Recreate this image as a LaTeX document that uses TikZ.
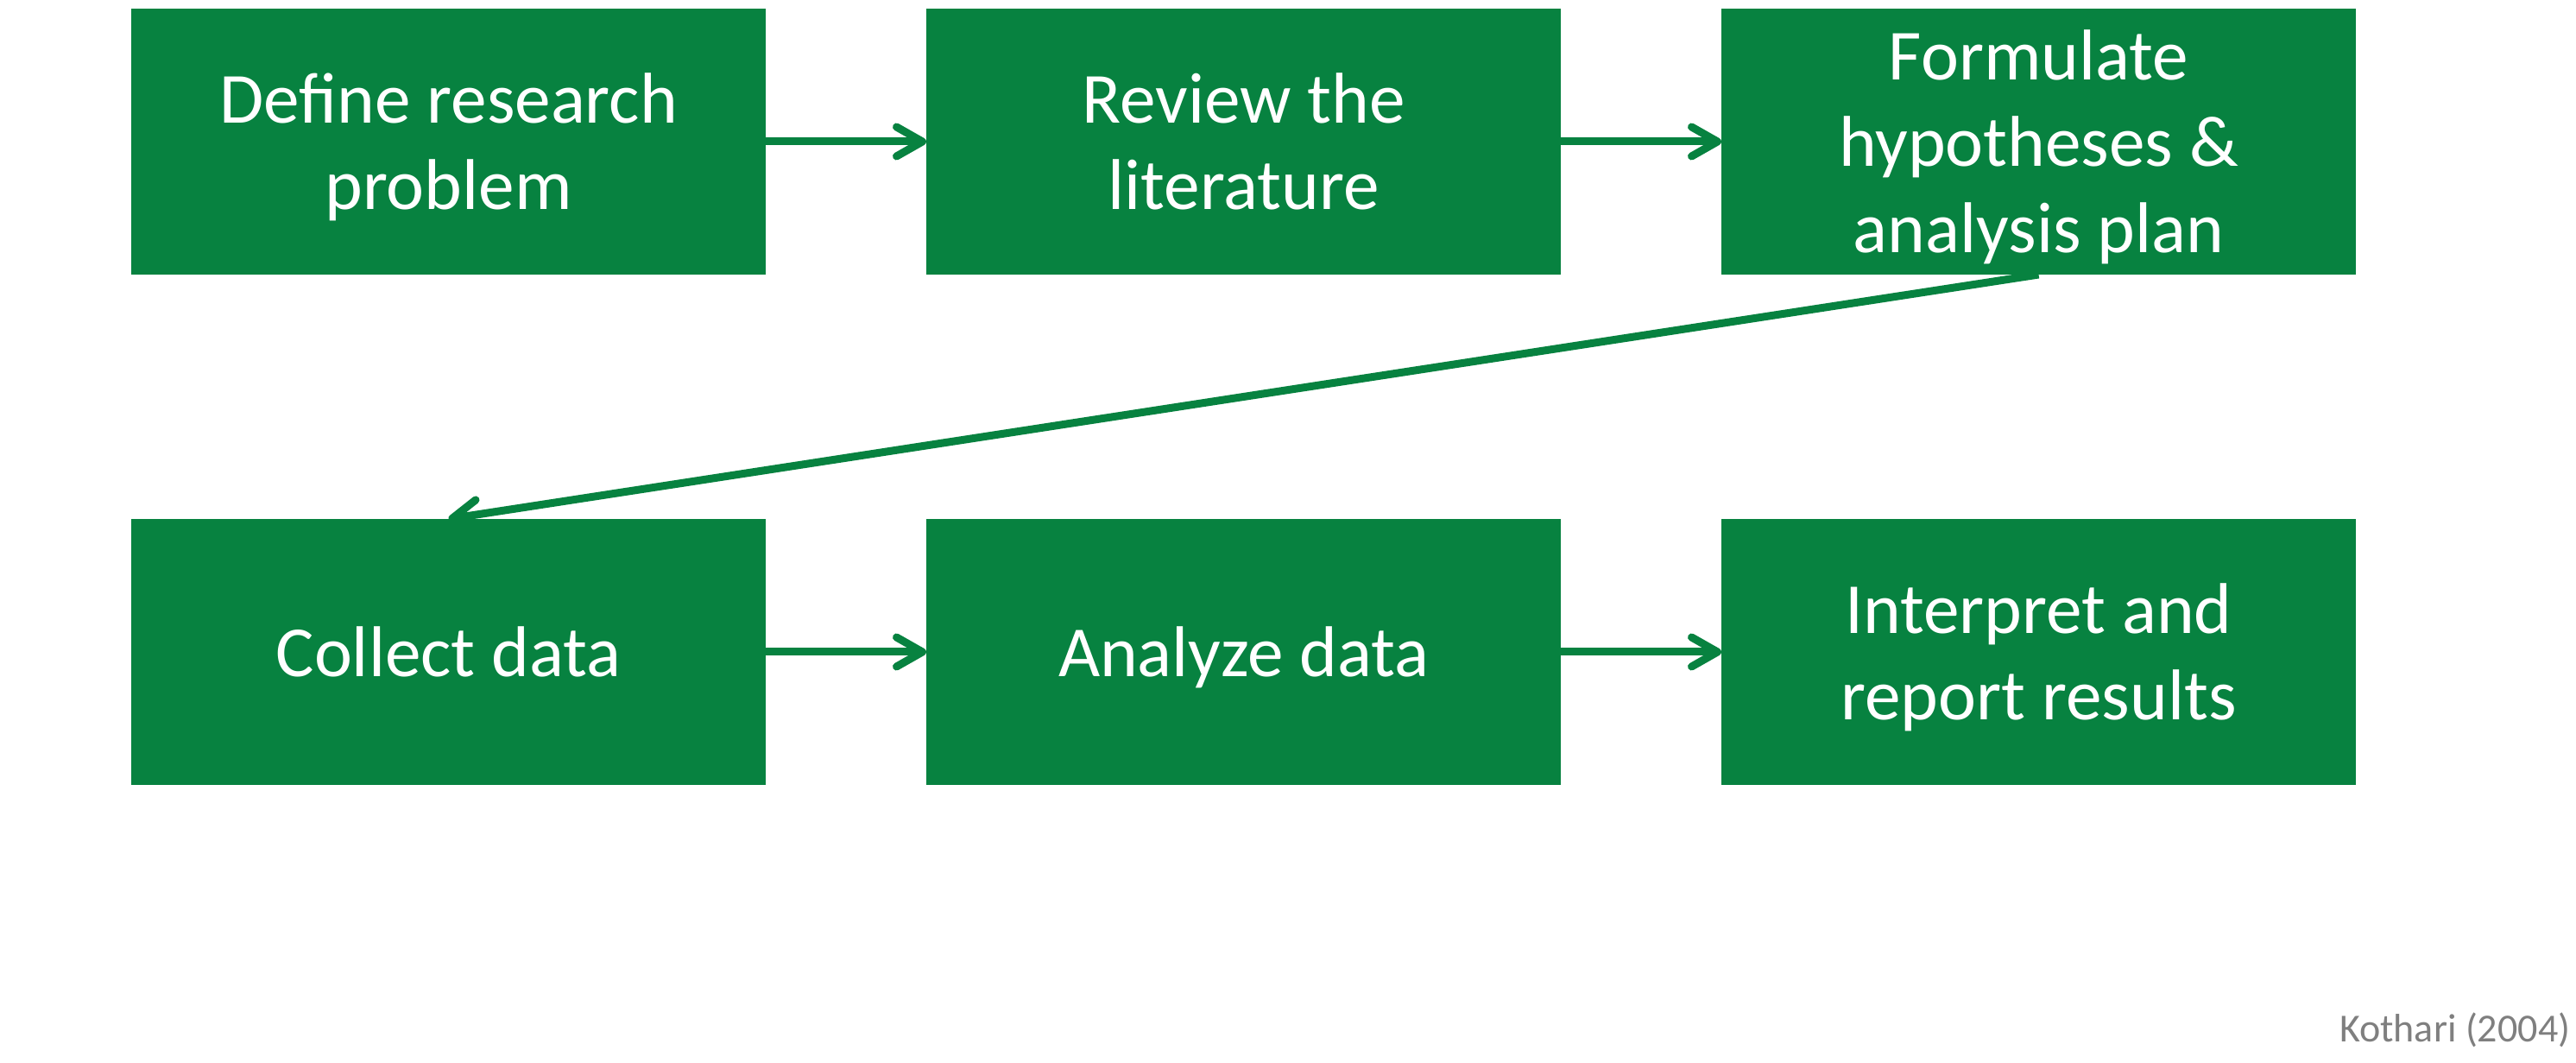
\documentclass[tikz,border=0pt]{standalone}
\usepackage{fontspec}
\setmainfont{Carlito}
\usetikzlibrary{arrows.meta}
\definecolor{boxgreen}{RGB}{7,130,64}
\definecolor{notegray}{RGB}{127,127,127}
\newcommand{\ls}{\rule[-0.21\baselineskip]{0pt}{\baselineskip}}
\begin{document}
\begin{tikzpicture}[
  stepbox/.style={fill=boxgreen, draw=none, minimum width=7.35cm, minimum height=3.08cm,
    inner sep=0pt, outer sep=0pt, align=center, text=white,
    font=\fontsize{23.7}{28.45}\selectfont},
  arr/.style={draw=boxgreen, line width=0.09cm,
    -{Straight Barb[length=0.3cm, width=0.34cm, line cap=round, line join=round]}}
]
\useasboundingbox (0,0) rectangle (29.84,-12.31);
\node[stepbox] (b1) at (5.195,-1.64) {\ls Define research\\\ls problem};
\node[stepbox] (b2) at (14.405,-1.64) {\ls Review the\\\ls literature};
\node[stepbox] (b3) at (23.615,-1.64) {\ls Formulate\\\ls hypotheses \&\\\ls analysis plan};
\node[stepbox] (b4) at (5.195,-7.55) {\ls Collect data};
\node[stepbox] (b5) at (14.405,-7.55) {\ls Analyze data};
\node[stepbox] (b6) at (23.615,-7.55) {\ls Interpret and\\\ls report results};
\node[anchor=base east, inner sep=0pt, text=notegray, font=\fontsize{13.1}{16}\selectfont]
  (src) at (29.78,-12.07) {Kothari (2004)};
\draw[arr] (b1) -- (b2);
\draw[arr] (b2) -- (b3);
\draw[arr] (b3.south) -- (b4.north);
\draw[arr] (b4) -- (b5);
\draw[arr] (b5) -- (b6);
\end{tikzpicture}
\end{document}
